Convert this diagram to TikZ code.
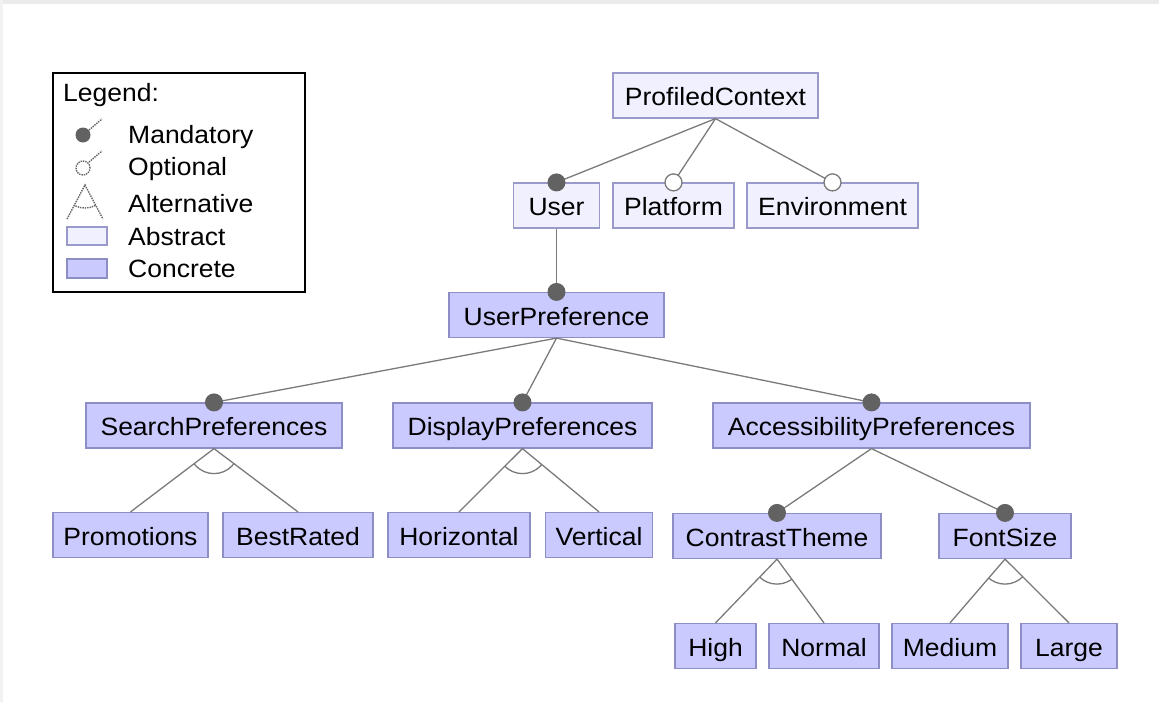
\documentclass[tikz,border=0pt]{standalone}
\usepackage{fontspec}
\setmainfont{Liberation Sans}[FakeStretch=1.06]
\usepackage{xcolor}
\definecolor{absfill}{HTML}{F0F0FF}
\definecolor{absdraw}{HTML}{9A9ACA}
\definecolor{confill}{HTML}{CACAFF}
\definecolor{condraw}{HTML}{8E8EC6}
\definecolor{edgegray}{HTML}{7A7A7A}
\definecolor{dotgray}{HTML}{626262}

\begin{document}
\begin{tikzpicture}[x=1pt, y=-1pt,
  feat/.style={draw, line width=1.2pt, minimum height=45pt, inner xsep=10pt,
    text height=21pt, text depth=1pt, font=\fontsize{25}{30}\selectfont},
  abstract/.style={feat, fill=absfill, draw=absdraw},
  concrete/.style={feat, fill=confill, draw=condraw},
  edge/.style={draw=edgegray, line width=1.3pt},
  lgtext/.style={anchor=west, inner sep=0pt, font=\fontsize{25}{30}\selectfont}]
\useasboundingbox (0,0) rectangle (1159,702);
\fill[black!8] (0,0) rectangle (1159,4);
\fill[black!5] (0,0) rectangle (3,702);

% legend
\node[draw, line width=2pt, minimum width=252pt, minimum height=219pt] (legend) at (179,182.5) {};
\node[lgtext] (lghead) at (63,95) {Legend:};
\node[lgtext] (lgmand) at (128,137) {Mandatory};
\node[lgtext] (lgopt) at (128,169) {Optional};
\node[lgtext] (lgalt) at (128,204) {Alternative};
\node[lgtext] (lgabs) at (128,237) {Abstract};
\node[lgtext] (lgcon) at (128,269) {Concrete};
\draw[dotgray, densely dotted, line width=1.4pt] (89,130) -- (102,119);
\fill[dotgray] (83,135) circle (7.5pt);
\draw[dotgray, densely dotted, line width=1.4pt] (89,162) -- (102,151);
\draw[dotgray, densely dotted, line width=1.4pt] (83,168) circle (7pt);
\draw[dotgray, densely dotted, line width=1.4pt] (67,219) -- (85,185) -- (103,219);
\begin{scope}
\clip (85,185) -- (67,219) -- (103,219) -- cycle;
\draw[dotgray, densely dotted, line width=1.4pt] (85,185) circle (23pt);
\end{scope}
\draw[absdraw, fill=absfill, line width=1.2pt] (67,227) rectangle (107,245);
\draw[condraw, fill=confill, line width=1.2pt] (67,259) rectangle (107,278);

% features
\node[abstract, minimum width=205pt] (pc) at (715.5,95.5) {ProfiledContext};
\node[abstract, minimum width=86pt] (user) at (556.5,205.5) {User};
\node[abstract, minimum width=121pt] (plat) at (673.5,205.5) {Platform};
\node[abstract, minimum width=171pt] (env) at (832.5,205.5) {Environment};
\node[concrete, minimum width=215pt] (upref) at (556.5,315) {UserPreference};
\node[concrete, minimum width=256pt] (spref) at (214,425.5) {SearchPreferences};
\node[concrete, minimum width=259pt] (dpref) at (522.5,425.5) {DisplayPreferences};
\node[concrete, minimum width=317pt] (apref) at (871.5,425.5) {AccessibilityPreferences};
\node[concrete, minimum width=155pt] (promo) at (130.5,535) {Promotions};
\node[concrete, minimum width=150pt] (best) at (298,535) {BestRated};
\node[concrete, minimum width=142pt] (horiz) at (459,535) {Horizontal};
\node[concrete, minimum width=106pt] (vert) at (599,535) {Vertical};
\node[concrete, minimum width=208pt] (ctheme) at (777,536) {ContrastTheme};
\node[concrete, minimum width=132pt] (fsize) at (1005,536) {FontSize};
\node[concrete, minimum width=81pt] (high) at (715.5,646) {High};
\node[concrete, minimum width=110pt] (normal) at (824,646) {Normal};
\node[concrete, minimum width=116pt] (medium) at (950,646) {Medium};
\node[concrete, minimum width=96pt] (large) at (1069,646) {Large};

% mandatory / optional links
\foreach \p/\c in {pc/user, user/upref, upref/spref, upref/dpref, upref/apref,
                   apref/ctheme, apref/fsize} {
  \draw[edge] (\p.south) -- (\c.north);
  \fill[dotgray] (\c.north) circle (9pt);
}
\foreach \p/\c in {pc/plat, pc/env} {
  \draw[edge] (\p.south) -- (\c.north);
  \draw[edgegray, fill=white, line width=1.3pt] (\c.north) circle (8.5pt);
}

% alternative groups
\foreach \p/\a/\b in {spref/promo/best, dpref/horiz/vert, ctheme/high/normal, fsize/medium/large} {
  \draw[edge] (\a.north) -- (\p.south) -- (\b.north);
  \begin{scope}
  \clip (\p.south) -- (\a.north) -- (\b.north) -- cycle;
  \draw[edge] (\p.south) circle (25pt);
  \end{scope}
}
\end{tikzpicture}
\end{document}
